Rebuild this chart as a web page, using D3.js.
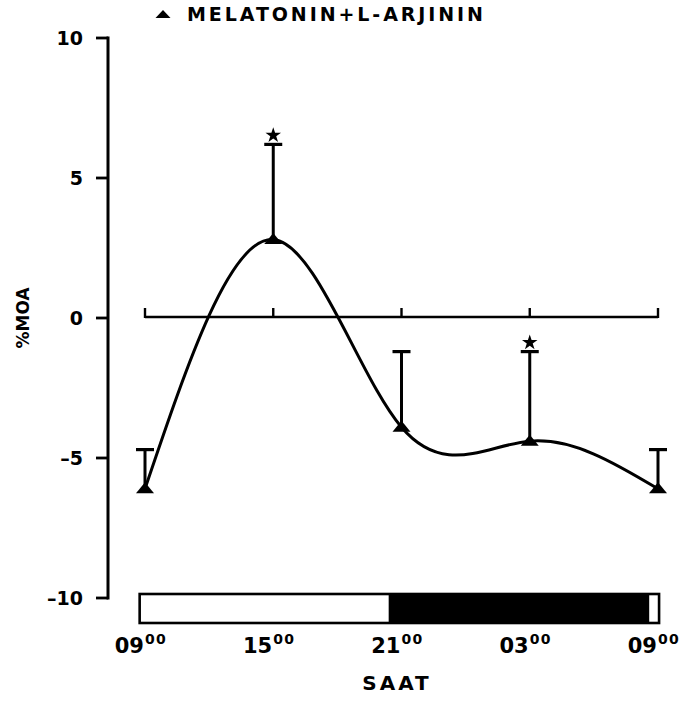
<!DOCTYPE html>
<html>
<head>
<meta charset="utf-8">
<script src="https://cdn.jsdelivr.net/npm/d3@7"></script>
<style>
  body { margin: 0; background: #fff; }
  text { font-family: "DejaVu Sans", Verdana, sans-serif; font-weight: bold; fill: #000; }
</style>
</head>
<body>
<svg id="chart" width="683" height="701"></svg>
<script>
// Clock hours (09:00 on day 1 through 09:00 on day 2, counted continuously)
const hours      = [9, 15, 21, 27, 33];
const hourLabels = ["09", "15", "21", "03", "09"];
// %MOA means and upper error bars
const means      = [-6.1, 2.8, -3.9, -4.4, -6.1];
const upperErr   = [-4.7, 6.2, -1.2, -1.2, -4.7];
const significant = [false, true, false, true, false];
const yTicks     = [10, 5, 0, -5, -10];
// Light/dark bar segments (hours)
const lightDark = [
  { start: 8.75, end: 20.4, dark: false },
  { start: 20.4, end: 32.6, dark: true },
  { start: 32.6, end: 33.05, dark: false }
];
const legendLabel = "MELATONIN+L-ARJININ";

const svg = d3.select("#chart");
const x = d3.scaleLinear().domain([9, 33]).range([145, 658]);
const y = d3.scaleLinear().domain([-10, 10]).range([598, 38]);

// Flat triangle marker: w wide, h tall, centred on the point
const flatTriangle = (w, h) => ({
  draw(ctx) {
    ctx.moveTo(0, -h / 2);
    ctx.lineTo(w / 2, h / 2);
    ctx.lineTo(-w / 2, h / 2);
    ctx.closePath();
  }
});

// Y axis
const yAxis = svg.append("g").attr("transform", "translate(108,0)");
yAxis.append("line").attr("x1", 0).attr("x2", 0).attr("y1", y(10) - 1.5).attr("y2", y(-10) + 1.5)
  .attr("stroke", "#000").attr("stroke-width", 3);
yAxis.selectAll("line.tick").data(yTicks).join("line").attr("class", "tick")
  .attr("x1", -12).attr("x2", 0).attr("y1", d => y(d)).attr("y2", d => y(d))
  .attr("stroke", "#000").attr("stroke-width", 2.8);
yAxis.selectAll("text").data(yTicks).join("text")
  .attr("x", -25).attr("y", d => y(d)).attr("dy", "0.36em")
  .attr("text-anchor", "end").attr("font-size", 19)
  .text(d => d < 0 ? "\u2013" + Math.abs(d) : d);

svg.append("text").attr("transform", `translate(29,${y(0)}) rotate(-90)`)
  .attr("text-anchor", "middle").attr("font-size", 17).text("%MOA");

// Zero reference line with hour ticks
svg.append("line").attr("x1", x(9)).attr("x2", x(33)).attr("y1", y(0) - 1).attr("y2", y(0) - 1)
  .attr("stroke", "#000").attr("stroke-width", 2.4);
svg.selectAll("line.zt").data(hours).join("line").attr("class", "zt")
  .attr("x1", d => x(d)).attr("x2", d => x(d)).attr("y1", y(0)).attr("y2", y(0) - 10)
  .attr("stroke", "#000").attr("stroke-width", 2.4);

// Error bars
const pts = hours.map((h, i) => ({ h, m: means[i], e: upperErr[i], s: significant[i] }));
svg.selectAll("line.err").data(pts).join("line").attr("class", "err")
  .attr("x1", d => x(d.h)).attr("x2", d => x(d.h)).attr("y1", d => y(d.m)).attr("y2", d => y(d.e))
  .attr("stroke", "#000").attr("stroke-width", 3);
svg.selectAll("line.cap").data(pts).join("line").attr("class", "cap")
  .attr("x1", d => x(d.h) - 9).attr("x2", d => x(d.h) + 9).attr("y1", d => y(d.e)).attr("y2", d => y(d.e))
  .attr("stroke", "#000").attr("stroke-width", 3.2);

// Smooth curve through the means
const line = d3.line().x(d => x(d.h)).y(d => y(d.m)).curve(d3.curveNatural);
svg.append("path").datum(pts).attr("d", line)
  .attr("fill", "none").attr("stroke", "#000").attr("stroke-width", 3);

// Triangle markers
const tri = d3.symbol().type(flatTriangle(18, 11));
svg.selectAll("path.pt").data(pts).join("path").attr("class", "pt")
  .attr("transform", d => `translate(${x(d.h)},${y(d.m) - 1})`)
  .attr("d", tri).attr("fill", "#000");

// Significance stars
const star = d3.symbol().type(d3.symbolStar).size(75);
svg.selectAll("path.star").data(pts.filter(d => d.s)).join("path").attr("class", "star")
  .attr("transform", d => `translate(${x(d.h)},${y(d.e) - 9})`)
  .attr("d", star).attr("fill", "#000");

// Light/dark bar
svg.selectAll("rect.ld").data(lightDark).join("rect").attr("class", "ld")
  .attr("x", d => x(d.start)).attr("width", d => x(d.end) - x(d.start))
  .attr("y", 594).attr("height", 29)
  .attr("fill", d => d.dark ? "#000" : "#fff");
svg.append("rect").attr("x", x(lightDark[0].start)).attr("y", 594)
  .attr("width", x(lightDark[2].end) - x(lightDark[0].start)).attr("height", 29)
  .attr("fill", "none").attr("stroke", "#000").attr("stroke-width", 2.6);

// X tick labels with superscript minutes
const xl = svg.selectAll("text.xl").data(hours).join("text").attr("class", "xl")
  .attr("x", d => x(d) - 4).attr("y", 653).attr("text-anchor", "middle").attr("font-size", 21);
xl.append("tspan").text((d, i) => hourLabels[i]);
xl.append("tspan").attr("dy", -9).attr("dx", 1).attr("font-size", 14).attr("letter-spacing", 1.5).text("00");

svg.append("text").attr("x", 397).attr("y", 690).attr("text-anchor", "middle")
  .attr("font-size", 20).attr("letter-spacing", 3).text("SAAT");

// Legend
svg.append("path").attr("transform", "translate(163,14)")
  .attr("d", d3.symbol().type(flatTriangle(15, 8))).attr("fill", "#000");
svg.append("text").attr("x", 187).attr("y", 21).attr("font-size", 19)
  .attr("textLength", 296).attr("lengthAdjust", "spacing").text(legendLabel);
</script>
</body>
</html>
